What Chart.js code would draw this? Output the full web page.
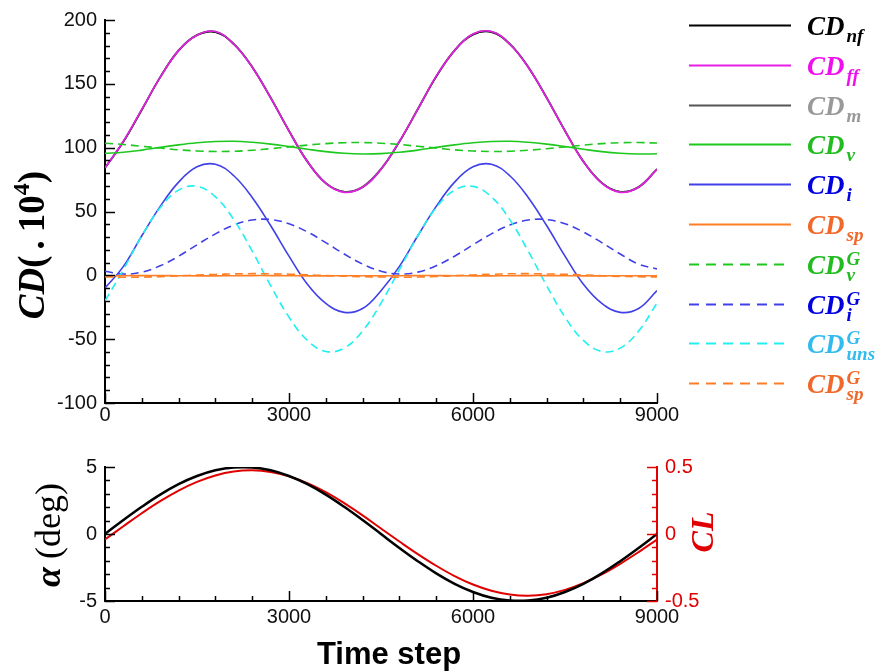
<!DOCTYPE html>
<html>
<head>
<meta charset="utf-8">
<script src="https://cdn.jsdelivr.net/npm/chart.js@4.4.1/dist/chart.umd.min.js"></script>
<style>
  html, body { margin: 0; padding: 0; background: #fff; }
  #wrap { position: relative; width: 892px; height: 672px; }
  #top { position: absolute; left: 0; top: 0; }
  #bot { position: absolute; left: 0; top: 440px; }
</style>
</head>
<body>
<div id="wrap">
  <canvas id="top" width="892" height="440"></canvas>
  <canvas id="bot" width="892" height="232"></canvas>
</div>
<script>
// time steps (sampled every 300)
const steps = [0,300,600,900,1200,1500,1800,2100,2400,2700,3000,3300,3600,3900,4200,4500,
  4800,5100,5400,5700,6000,6300,6600,6900,7200,7500,7800,8100,8400,8700,9000];

// drag components, CD x 10^4
const cdNf = [84,104.5,129.5,155,176,188,190.5,181,163,139,113,89,72,65.5,69,83,104.5,130,155.5,176,188.5,190.5,181,163,139,113,89,72.5,65.5,69,83];
const cdFf = [84,105,130,155,176,188,191,181,163,139,113,89,72,65,69,83,105,130,156,176,189,191,181,163,139,113,89,72,65,69,83];
const cdM = [84.5,105,130,155.5,176.5,188.5,191,181.5,163.5,139.5,113.5,89.5,72.5,65.5,69.5,83.5,105,130.5,156,176.5,189,191,181.5,163.5,139.5,113.5,89.5,72.5,65.5,69.5,83.5];
const cdV = [95.5,96.4,98.1,100.2,102.2,103.8,104.8,105,104.2,102.8,100.9,98.8,96.9,95.6,95,95.3,96.4,98.1,100.2,102.2,103.8,104.8,105,104.2,102.8,100.9,98.8,96.9,95.6,95,95.2];
const cdI = [-10,7,31,54,73,85,87,78,61,39,15,-7,-22,-29,-26,-12,7,31,54,73,85,87,78,61,39,15,-7,-22,-29,-26,-12];
const cdSp = [-0.4,-0.3,-0.2,-0.2,-0.3,-0.4,-0.4,-0.3,-0.2,-0.2,-0.3,-0.4,-0.4,-0.3,-0.3,-0.4,-0.3,-0.2,-0.2,-0.3,-0.4,-0.4,-0.3,-0.2,-0.2,-0.3,-0.4,-0.4,-0.3,-0.3,-0.4];
const cdVG = [103.5,102.5,101.1,99.7,98.3,97.4,97,97.2,98,99.2,100.6,102,103.2,103.9,104,103.5,102.5,101.1,99.7,98.3,97.4,97,97.2,98,99.2,100.6,102,103.2,103.9,104,103.6];
const cdIG = [3.2,1,2.5,7.5,15,23.9,32.5,39.4,43.3,43.7,40.4,34,25.6,16.7,8.8,3.2,1,2.5,7.5,15,23.9,32.5,39.4,43.3,43.7,40.4,34,25.6,16.7,8.8,5];
const cdUnsG = [-20,4.5,31,53,66.7,69.7,61.5,43.6,19,-8,-32.8,-51,-59.6,-57,-43.6,-21.8,4.5,31,53,66.7,69.7,61.5,43.6,19,-8,-32.8,-51,-59.6,-57,-43.6,-21.8];
const cdSpG = [-1.2,-1.5,-1.4,-1.0,-0.4,0.2,0.7,1.1,1.3,1.2,0.9,0.4,-0.2,-0.7,-1.1,-1.3,-1.5,-1.3,-0.9,-0.3,0.3,0.8,1.2,1.3,1.1,0.8,0.3,-0.3,-0.8,-1.1,-1.3];

// angle of attack (deg) and lift coefficient
const alpha = [0,1.04,2.03,2.94,3.72,4.33,4.76,4.97,4.97,4.76,4.33,3.72,2.94,2.03,1.04,0,-1.04,-2.03,-2.94,-3.72,-4.33,-4.76,-4.97,-4.97,-4.76,-4.33,-3.72,-2.94,-2.03,-1.04,0];
const cl = [-0.041,0.058,0.155,0.245,0.324,0.389,0.437,0.466,0.475,0.463,0.430,0.379,0.312,0.230,0.139,0.041,-0.056,-0.150,-0.237,-0.314,-0.377,-0.423,-0.451,-0.46,-0.449,-0.417,-0.367,-0.302,-0.223,-0.135,-0.041];

// legend label parts: CD_{sub}^{sup}
const legendSubs = ['nf','ff','m','v','i','sp','v','i','uns','sp'];
const legendSups = ['','','','','','','G','G','G','G'];
const legendText = ['#000000','#ee11ee','#999999','#22bb22','#0000e0','#f0682a','#22bb22','#0000e0','#33bbee','#f0682a'];

const tickFont = { family: 'Liberation Sans', size: 20 };
const toXY = (ys) => ys.map((y, i) => ({ x: steps[i], y }));

function line(label, data, color, order, dashed) {
  return {
    label, data: toXY(data), borderColor: color, backgroundColor: color,
    borderWidth: 1.6, borderDash: dashed ? [8, 5] : [], pointRadius: 0,
    tension: 0.4, fill: false, order
  };
}

// inward major + minor ticks, Tecplot style
function drawTicks(chart, id, minorStep, color) {
  const s = chart.scales[id];
  const a = chart.chartArea;
  const ctx = chart.ctx;
  ctx.save();
  ctx.strokeStyle = color;
  ctx.lineWidth = 1.5;
  const n = Math.round((s.max - s.min) / minorStep);
  for (let k = 0; k <= n; k++) {
    const v = s.min + k * minorStep;
    const major = s.ticks.some(t => Math.abs(t.value - v) < minorStep / 100);
    const len = major ? 10 : 5;
    const p = Math.round(s.getPixelForValue(v)) + 0.5;
    ctx.beginPath();
    if (s.isHorizontal()) { ctx.moveTo(p, a.bottom); ctx.lineTo(p, a.bottom - len); }
    else if (s.position === 'left') { ctx.moveTo(a.left, p); ctx.lineTo(a.left + len, p); }
    else { ctx.moveTo(a.right, p); ctx.lineTo(a.right - len, p); }
    ctx.stroke();
  }
  ctx.restore();
}

// draws a run of text pieces along a rotated baseline
function drawPieces(ctx, cx, cy, pieces, color) {
  ctx.save();
  ctx.translate(cx, cy);
  ctx.rotate(-Math.PI / 2);
  ctx.fillStyle = color;
  ctx.textBaseline = 'alphabetic';
  let total = 0;
  pieces.forEach(p => { ctx.font = p.f; p.w = ctx.measureText(p.t).width; total += p.w + (p.gap || 0); });
  let x = -total / 2;
  pieces.forEach(p => { ctx.font = p.f; ctx.fillText(p.t, x, p.dy || 0); x += p.w + (p.gap || 0); });
  ctx.restore();
}

const topDecor = {
  id: 'topDecor',
  afterDraw(chart) {
    const ctx = chart.ctx;
    drawTicks(chart, 'x', 600, '#000');
    drawTicks(chart, 'y', 10, '#000');
    // y title
    drawPieces(ctx, 44, 245, [
      { t: 'CD', f: 'italic bold 37px "Liberation Serif"' },
      { t: '(', f: 'bold 37px "Liberation Serif"', gap: 6 },
      { t: '.', f: 'bold 37px "Liberation Serif"', gap: 8 },
      { t: '10', f: 'bold 37px "Liberation Serif"' },
      { t: '4', f: 'bold 24px "Liberation Serif"', dy: -15 },
      { t: ')', f: 'bold 37px "Liberation Serif"' }
    ], '#000');
    // side legend
    chart.data.datasets.forEach((ds, i) => {
      const y = Math.round(25 + i * 39.8) + 0.5;
      ctx.save();
      ctx.strokeStyle = ds.borderColor;
      ctx.lineWidth = 2;
      ctx.setLineDash(ds.borderDash.length ? [10, 7] : []);
      ctx.beginPath(); ctx.moveTo(689, y); ctx.lineTo(791, y); ctx.stroke();
      ctx.setLineDash([]);
      ctx.fillStyle = legendText[i];
      ctx.textBaseline = 'alphabetic';
      ctx.font = 'italic bold 27px "Liberation Serif"';
      ctx.fillText('CD', 807, y + 9);
      const w = ctx.measureText('CD').width;
      ctx.font = 'italic bold 19px "Liberation Serif"';
      ctx.fillText(legendSubs[i], 807 + w + 2, y + 16);
      if (legendSups[i]) ctx.fillText(legendSups[i], 807 + w + 2, y);
      ctx.restore();
    });
  }
};

const botDecor = {
  id: 'botDecor',
  afterDraw(chart) {
    const ctx = chart.ctx;
    drawTicks(chart, 'x', 600, '#000');
    drawTicks(chart, 'y', 1, '#000');
    drawTicks(chart, 'y1', 0.1, '#e00000');
    drawPieces(ctx, 60, 95, [
      { t: 'α', f: 'italic bold 36px "Liberation Serif"', gap: 8 },
      { t: '(deg)', f: '36px "Liberation Serif"' }
    ], '#000');
    drawPieces(ctx, 713, 92, [
      { t: 'CL', f: 'italic bold 32px "Liberation Serif"' }
    ], '#e00000');
    ctx.save();
    ctx.fillStyle = '#000';
    ctx.font = 'bold 31px "Liberation Sans"';
    ctx.textAlign = 'center';
    ctx.textBaseline = 'alphabetic';
    ctx.fillText('Time step', 389, 224);
    ctx.restore();
  }
};

function xScale(h, pad) {
  return {
    type: 'linear', min: 0, max: 9000,
    grid: { display: false, drawTicks: false },
    border: { display: true, color: '#000', width: 2 },
    ticks: { stepSize: 3000, font: tickFont, color: '#111', padding: pad, maxRotation: 0,
      callback: v => String(v) },
    afterFit: s => { s.height = h; }
  };
}

new Chart(document.getElementById('top'), {
  type: 'line',
  data: {
    datasets: [
      line('CDnf', cdNf, '#000000', 12, false),
      line('CDff', cdFf, '#e61ee6', 9, false),
      line('CDm', cdM, '#555555', 11, false),
      line('CDv', cdV, '#1ec81e', 7, false),
      line('CDi', cdI, '#4040e8', 6, false),
      line('CDsp', cdSp, '#ff7f27', 2, false),
      line('CDvG', cdVG, '#1ec81e', 5, true),
      line('CDiG', cdIG, '#4040e8', 4, true),
      line('CDunsG', cdUnsG, '#20f0f0', 3, true),
      line('CDspG', cdSpG, '#ff7f27', 1, true)
    ]
  },
  options: {
    responsive: false,
    animation: false,
    layout: { padding: { left: 0, right: 235, top: 16, bottom: 0 } },
    plugins: { legend: { display: false }, tooltip: { enabled: false } },
    scales: {
      x: xScale(37, 0),
      y: {
        min: -100, max: 200,
        grid: { display: false, drawTicks: false },
        border: { display: true, color: '#000', width: 2 },
        ticks: { stepSize: 50, font: tickFont, color: '#111', padding: 8, callback: v => String(v) },
        afterFit: s => { s.width = 105; }
      }
    }
  },
  plugins: [topDecor]
});

new Chart(document.getElementById('bot'), {
  type: 'line',
  data: {
    datasets: [
      { label: 'alpha', data: toXY(alpha), yAxisID: 'y', borderColor: '#000', borderWidth: 2.5,
        pointRadius: 0, tension: 0.4, order: 1 },
      { label: 'CL', data: toXY(cl), yAxisID: 'y1', borderColor: '#e00000', borderWidth: 2,
        pointRadius: 0, tension: 0.4, order: 2 }
    ]
  },
  options: {
    responsive: false,
    animation: false,
    layout: { padding: { left: 0, right: 175, top: 27, bottom: 0 } },
    plugins: { legend: { display: false }, tooltip: { enabled: false } },
    scales: {
      x: xScale(71, 4),
      y: {
        position: 'left', min: -5, max: 5,
        grid: { display: false, drawTicks: false },
        border: { display: true, color: '#000', width: 2 },
        ticks: { stepSize: 5, font: tickFont, color: '#111', padding: 8, callback: v => String(v) },
        afterFit: s => { s.width = 105; }
      },
      y1: {
        position: 'right', min: -0.5, max: 0.5,
        grid: { display: false, drawTicks: false },
        border: { display: true, color: '#e00000', width: 2 },
        ticks: { stepSize: 0.5, font: tickFont, color: '#e00000', padding: 8, callback: v => String(v) },
        afterFit: s => { s.width = 60; }
      }
    }
  },
  plugins: [botDecor]
});
</script>
</body>
</html>
